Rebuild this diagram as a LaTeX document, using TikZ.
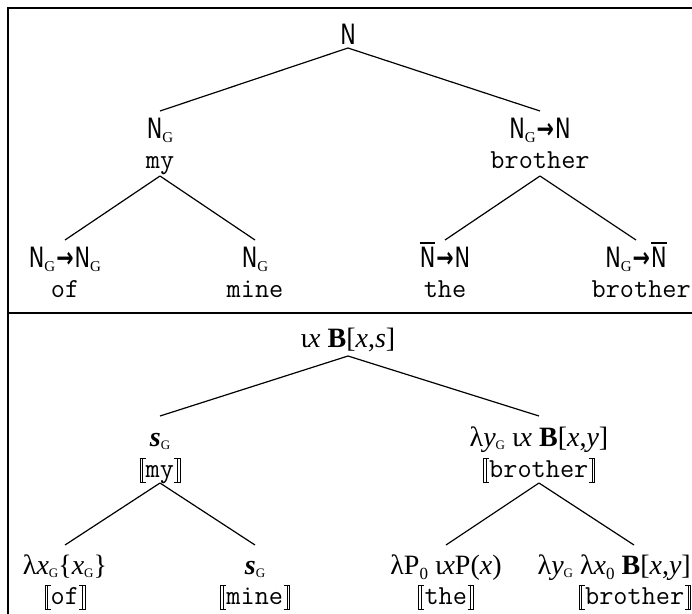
\documentclass[tikz,border=0pt]{standalone}
\usepackage{fontspec}
\setmainfont{Liberation Serif}
\newfontfamily\catfont[FakeStretch=0.74]{DejaVu Sans}
\newfontfamily\gfont{Liberation Serif}

% category symbols
\newsavebox\barbox
\newcommand{\Nbar}{\sbox\barbox{N}\rlap{\rule[\dimexpr\ht\barbox+2.5pt\relax]{\wd\barbox}{1.6pt}}N}
\newcommand{\subG}{\raisebox{-4pt}{\gfont\fontsize{15}{15}\selectfont G}}
\newcommand{\subGs}{\raisebox{-3pt}{\gfont\fontsize{13}{13}\selectfont G}}
\newcommand{\subZ}{\raisebox{-5pt}{\gfont\fontsize{17}{17}\selectfont 0}}
\newcommand{\arr}{\kern1pt{\bfseries →}\kern1pt}
% semantic brackets drawn with rules
\newcommand{\lsem}{\raisebox{-6pt}{%
  \rlap{\rule{0.7pt}{25pt}}%
  \rlap{\rule{6pt}{0.7pt}}%
  \rlap{\raisebox{24.3pt}{\rule{6pt}{0.7pt}}}%
  \kern2.4pt\rule{0.7pt}{25pt}\kern3pt}}
\newcommand{\rsem}{\raisebox{-6pt}{\kern0.5pt%
  \rlap{\rule{6pt}{0.7pt}}%
  \rlap{\raisebox{24.3pt}{\rule{6pt}{0.7pt}}}%
  \kern2.9pt\rlap{\rule{0.7pt}{25pt}}%
  \kern2.4pt\rule{0.7pt}{25pt}}}
\newcommand{\vx}{\textit{x}}
\newcommand{\vy}{\textit{y}}
\newcommand{\vs}{\textit{s}}
\newcommand{\bs}{\textbf{\textit{s}}}
\newcommand{\bB}{\textbf{B}}

\tikzset{
  cat/.style={font=\catfont\fontsize{28}{30}\selectfont, anchor=base, inner sep=0pt},
  wrd/.style={font=\ttfamily\fontsize{27.5}{29}\selectfont, anchor=base, inner sep=0pt},
  sem/.style={font=\rmfamily\fontsize{28}{30}\selectfont, anchor=base, inner sep=0pt},
  branch/.style={line width=1.2pt},
  frameline/.style={line width=2.4pt}
}

\begin{document}
\begin{tikzpicture}[x=1pt,y=-1pt]
\useasboundingbox (0,0) rectangle (692,613);
\clip (0,0) rectangle (692,613);

% frame
\draw[frameline] (8,616) -- (8,8) -- (696,8);
\draw[frameline] (8,313) -- (696,313);

% ---- syntactic tree ----
\node[cat] (tN) at (348,44) {N};
\node[cat] (tNG) at (160,138) {N\subG};
\node[wrd] (tmy) at (160,168) {my};
\node[cat] (tNGN) at (540,138) {N\subG\arr N};
\node[wrd] (tbro) at (540,168) {brother};
\node[cat] (tl1) at (65,267) {N\subG\arr N\subG};
\node[wrd] (tof) at (65,297) {of};
\node[cat] (tl2) at (255,267) {N\subG};
\node[wrd] (tmine) at (255,297) {mine};
\node[cat] (tl3) at (445,267) {\Nbar\arr N};
\node[wrd] (tthe) at (445,297) {the};
\node[cat] (tl4) at (636,267) {N\subG\arr\Nbar};
\node[wrd, anchor=base east] (tbro2) at (691,297) {brother};

\draw[branch] ([yshift=-4pt]tN.base) -- ([yshift=27pt]tNG.base);
\draw[branch] ([yshift=-4pt]tN.base) -- ([yshift=27pt]tNGN.base);
\draw[branch] ([yshift=-8pt]tmy.base) -- ([yshift=27pt]tl1.base);
\draw[branch] ([yshift=-8pt]tmy.base) -- ([yshift=27pt]tl2.base);
\draw[branch] ([yshift=-8pt]tbro.base) -- ([yshift=27pt]tl3.base);
\draw[branch] ([yshift=-8pt]tbro.base) -- ([yshift=27pt]tl4.base);

% ---- semantic tree ----
\node[sem] (sR) at (348,347) {ι\vx\ \bB[\vx,\vs]};
\node[sem] (sS) at (160,446) {\bs\subGs};
\node[wrd] (smy) at (160,477) {\lsem my\rsem};
\node[sem] (sB) at (539,446) {λ\vy\subGs\ ι\vx\ \bB[\vx,\vy]};
\node[wrd] (sbro) at (539,477) {\lsem brother\rsem};
\node[sem] (sl1) at (65,574) {λ\vx\subGs\{\vx\subGs\}};
\node[wrd] (sof) at (65,604) {\lsem of\rsem};
\node[sem] (sl2) at (255,574) {\bs\subGs};
\node[wrd] (smine) at (255,604) {\lsem mine\rsem};
\node[sem] (sl3) at (446,574) {λP\subZ\ ι\vx P(\vx)};
\node[wrd] (sthe) at (446,604) {\lsem the\rsem};
\node[sem, anchor=base east] (sl4) at (691,574) {λ\vy\subGs\ λ\vx\subZ\ \bB[\vx,\vy]};
\node[wrd, anchor=base east] (sbro2) at (691,604) {\lsem brother\rsem};
\coordinate (sl4top) at (634,545);

\draw[branch] ([yshift=-9pt]sR.base) -- ([yshift=30pt]sS.base);
\draw[branch] ([yshift=-9pt]sR.base) -- ([yshift=30pt]sB.base);
\draw[branch] ([yshift=-6pt]smy.base) -- ([yshift=29pt]sl1.base);
\draw[branch] ([yshift=-6pt]smy.base) -- ([yshift=29pt]sl2.base);
\draw[branch] ([yshift=-6pt]sbro.base) -- ([yshift=29pt]sl3.base);
\draw[branch] ([yshift=-6pt]sbro.base) -- (sl4top);
\end{tikzpicture}
\end{document}
